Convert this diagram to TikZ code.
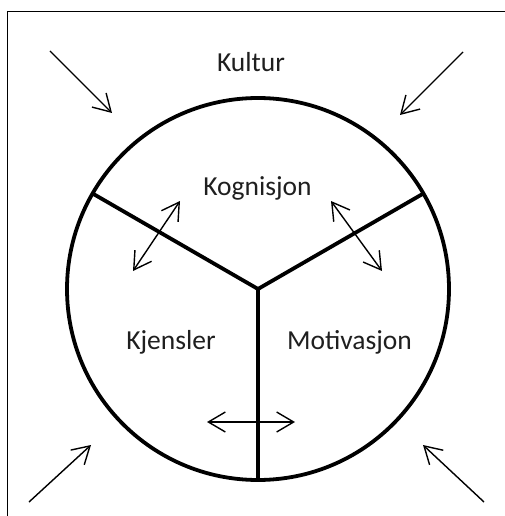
\documentclass[tikz,border=0pt]{standalone}
\usepackage{fontspec}
\setmainfont{Carlito}
\usetikzlibrary{arrows.meta}
\begin{document}
\begin{tikzpicture}[x=1pt,y=-1pt,
  lbl/.style={font=\fontsize{27.5}{30}\selectfont, text=black!88, anchor=base, inner sep=0pt},
  thick line/.style={line width=3.8pt},
  arr/.style={line width=1.4pt, -{Straight Barb[length=17pt,width=20pt,line width=1.4pt]}},
  darr/.style={line width=1.4pt, {Straight Barb[length=17pt,width=20pt,line width=1.4pt]}-{Straight Barb[length=17pt,width=20pt,line width=1.4pt]}}]
\useasboundingbox (0,0) rectangle (504,516);
\fill[white] (0,0) rectangle (504,516);
% frame
\coordinate (f1) at (7,520);
\coordinate (f2) at (7,12);
\coordinate (f3) at (510,12);
\draw[line width=1pt] (f1) -- (f2) -- (f3);
% circle
\coordinate (c) at (258,289);
\draw[thick line] (c) circle[radius=191];
\draw[thick line] (c) -- ++(-165.4,-95.5) coordinate (sl);
\draw[thick line] (c) -- ++(165.4,-95.5) coordinate (sr);
\draw[thick line] (c) -- ++(0,191) coordinate (sb);
% labels
\node[lbl] (kultur) at (251,72) {Kultur};
\node[lbl] (kog) at (257.5,195) {Kognisjon};
\node[lbl] (kje) at (171,349) {Kjensler};
\node[lbl] (mot) at (349.5,349) {Motivasjon};
% inner double arrows
\coordinate (a1) at (180,201); \coordinate (a2) at (133,271);
\coordinate (b1) at (331,201); \coordinate (b2) at (382,271);
\coordinate (d1) at (207,422); \coordinate (d2) at (295,422);
\draw[darr] (a1) -- (a2);
\draw[darr] (b1) -- (b2);
\draw[darr] (d1) -- (d2);
% outer arrows
\coordinate (o1s) at (50,51);  \coordinate (o1e) at (112,113);
\coordinate (o2s) at (463,52); \coordinate (o2e) at (400,115);
\coordinate (o3s) at (29,502); \coordinate (o3e) at (91,445);
\coordinate (o4s) at (484,502); \coordinate (o4e) at (423,445);
\draw[arr] (o1s) -- (o1e);
\draw[arr] (o2s) -- (o2e);
\draw[arr] (o3s) -- (o3e);
\draw[arr] (o4s) -- (o4e);
\end{tikzpicture}
\end{document}
